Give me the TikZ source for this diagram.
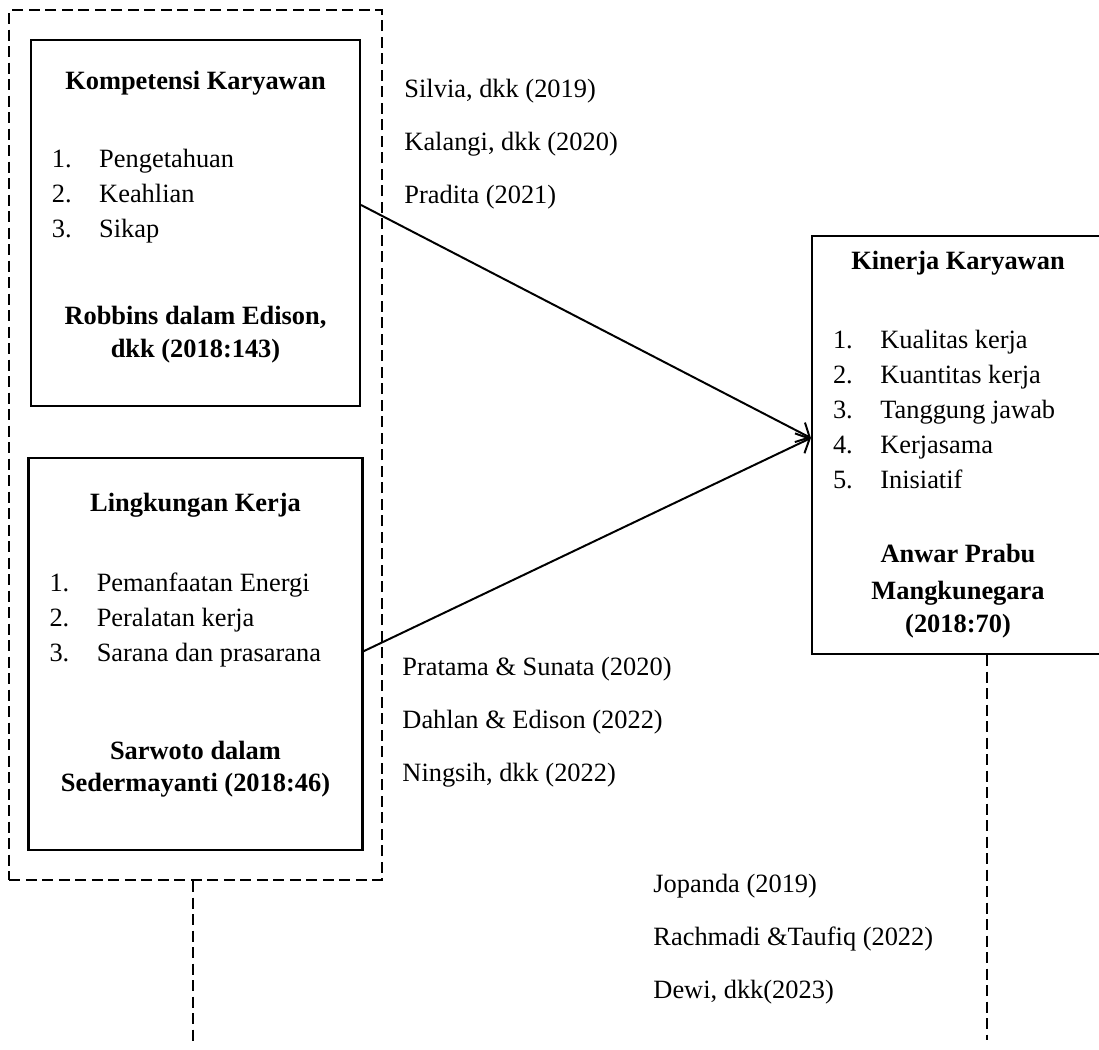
\documentclass[tikz,border=0pt]{standalone}
\usepackage{fontspec}
\setmainfont{Liberation Serif}
\usetikzlibrary{arrows.meta,positioning,fit,calc}

\newcommand{\indik}[3]{\makebox[#1][l]{\makebox[21.5pt][l]{#2}#3}}

\begin{document}
\begin{tikzpicture}[
  x=0.4545pt, y=-0.4545pt,
  font=\fontsize{12pt}{15.9pt}\selectfont,
  >={Straight Barb[length=5pt,width=10pt]},
  box/.style={draw, line width=1pt, align=center, inner sep=0pt},
  frame/.style={draw, line width=1pt, dash pattern=on 5pt off 2.5pt, inner xsep=8.2pt, inner ysep=13pt},
  dline/.style={line width=1pt, dash pattern=on 5pt off 2.5pt},
  arrow/.style={->, line width=0.9pt},
  ref/.style={anchor=north west, inner sep=0pt, align=left, font=\fontsize{12pt}{24pt}\selectfont}
]
\useasboundingbox (0,0) rectangle (1099,1050);

\node[box, minimum width=149.5pt, minimum height=166.4pt] (komp) at (195.5,223) {%
  \textbf{Kompetensi Karyawan}\\[19.5pt]
  \indik{130.5pt}{1.}{Pengetahuan}\\
  \indik{130.5pt}{2.}{Keahlian}\\
  \indik{130.5pt}{3.}{Sikap}\\[23.6pt]
  \textbf{Robbins dalam Edison,}\\[-0.9pt]
  \textbf{dkk (2018:143)}\rule[-8.1pt]{0pt}{8.1pt}};
\node[box, minimum width=151.8pt, minimum height=178.2pt, below=22.7pt of komp] (ling) {%
  \textbf{Lingkungan Kerja}\\[20.5pt]
  \indik{132.7pt}{1.}{Pemanfaatan Energi}\\
  \indik{132.7pt}{2.}{Peralatan kerja}\\
  \indik{132.7pt}{3.}{Sarana dan prasarana}\\[28.6pt]
  \textbf{Sarwoto dalam}\\[-1.3pt]
  \textbf{Sedermayanti (2018:46)}\rule[-10.8pt]{0pt}{10.8pt}};
\node[box, minimum width=132.7pt, minimum height=190pt] (kin) at (958,445) {%
  \textbf{Kinerja Karyawan}\\[20pt]
  \indik{113.6pt}{1.}{Kualitas kerja}\\
  \indik{113.6pt}{2.}{Kuantitas kerja}\\
  \indik{113.6pt}{3.}{Tanggung jawab}\\
  \indik{113.6pt}{4.}{Kerjasama}\\
  \indik{113.6pt}{5.}{Inisiatif}\\[17.7pt]
  \textbf{Anwar Prabu}\\[0.9pt]
  \textbf{Mangkunegara}\\[-0.9pt]
  \textbf{(2018:70)}};

\node[frame, fit=(komp)(ling)] (var) {};

% pengaruh parsial
\draw[arrow] ($(komp.east)+(0,-18)$) -- ($(kin.west)+(0,-7)$);
\draw[arrow] ($(ling.east)+(0,-3)$) -- ($(kin.west)+(0,-7)$);

\node[ref] (ref1) at (404,79) {Silvia, dkk (2019)\\Kalangi, dkk (2020)\\Pradita (2021)};
\node[ref] (ref2) at (402,657) {Pratama \& Sunata (2020)\\Dahlan \& Edison (2022)\\Ningsih, dkk (2022)};
\node[ref] (ref3) at (653,874) {Jopanda (2019)\\Rachmadi \&Taufiq (2022)\\Dewi, dkk(2023)};

% garis putus ke bawah
\coordinate (ujung1) at (193,1045);
\coordinate (ujung2) at (987,1040);
\draw[dline] (var.south -| ujung1) -- (ujung1);
\draw[dline] (kin.south -| ujung2) -- (ujung2);

\end{tikzpicture}
\end{document}
